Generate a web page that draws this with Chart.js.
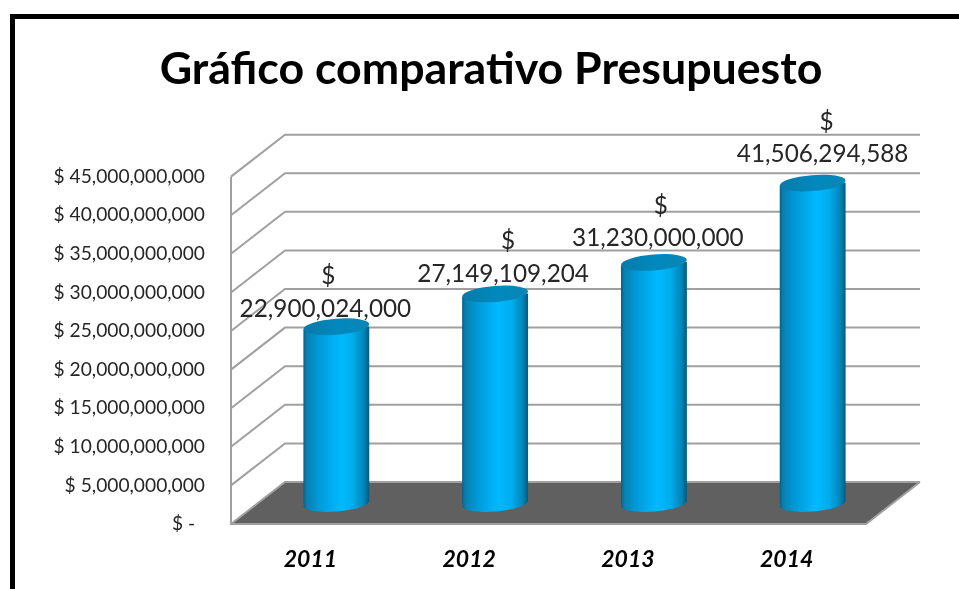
<!DOCTYPE html>
<html><head><meta charset="utf-8">
<style>html,body{margin:0;padding:0;background:#fff}#w{position:relative;width:959px;height:589px;overflow:hidden}canvas{display:block;filter:blur(0.45px)}</style>
<script src="https://cdn.jsdelivr.net/npm/chart.js@4"></script>
</head><body><div id="w"><canvas id="c" width="959" height="589"></canvas></div>
<script>
const categories = ['2011','2012','2013','2014'];
const presupuesto = [22900024000, 27149109204, 31230000000, 41506294588];
const axisMax = 45000000000;
const axisStep = 5000000000;
const titleText = 'Gráfico comparativo Presupuesto';

const FONT = 'Lato, Carlito, sans-serif';
const DEPTH = {x:54, y:-42};          // perspective of the walls
const BAR = {dx:26, dy:-20.5, r:33, ry:8, tilt:-0.08, lift:3};
const LABEL_SHIFT = [{x:-11,y:-18},{x:8,y:-20},{x:4,y:-24},{x:10,y:-29}];
const DOLLAR_SHIFT = [{x:3,y:-33},{x:5,y:-33},{x:3,y:-32},{x:4,y:-32}];

function money(v){ return v.toLocaleString('en-US'); }
function barGradient(ctx, cx){
  const g = ctx.createLinearGradient(cx-BAR.r,0,cx+BAR.r,0);
  g.addColorStop(0,'#075f85');
  g.addColorStop(0.05,'#0a7fae');
  g.addColorStop(0.22,'#0098d6');
  g.addColorStop(0.55,'#00b9ff');
  g.addColorStop(0.74,'#00aeef');
  g.addColorStop(0.92,'#0085b8');
  g.addColorStop(1,'#05597c');
  return g;
}
const scene = {
  id:'scene',
  beforeDraw(chart){
    const c = chart.ctx;
    c.save();
    c.fillStyle='#fff'; c.fillRect(0,0,chart.width,chart.height);
    c.fillStyle='#000';
    c.fillRect(10,14,chart.width-10,5);
    c.fillRect(10,14,5,chart.height-14);
    c.restore();
  },
  beforeDatasetsDraw(chart){
    const c = chart.ctx, y = chart.scales.y, a = chart.chartArea;
    const zero = y.getPixelForValue(0);
    c.save();
    c.fillStyle='#606060';
    c.beginPath();
    c.moveTo(a.left,zero); c.lineTo(a.left+DEPTH.x,zero+DEPTH.y);
    c.lineTo(a.right+DEPTH.x,zero+DEPTH.y); c.lineTo(a.right,zero); c.closePath(); c.fill();
    c.strokeStyle='#a0a0a0'; c.lineWidth=2;
    y.ticks.forEach(t=>{
      const p = y.getPixelForValue(t.value);
      c.beginPath(); c.moveTo(a.left,p); c.lineTo(a.left+DEPTH.x,p+DEPTH.y); c.lineTo(a.right+DEPTH.x,p+DEPTH.y); c.stroke();
    });
    c.beginPath(); c.moveTo(a.left,a.top); c.lineTo(a.left,zero); c.lineTo(a.right,zero); c.lineTo(a.right+DEPTH.x,zero+DEPTH.y); c.stroke();
    c.restore();

    const bars = chart.getDatasetMeta(0).data;
    c.save();
    c.translate(BAR.dx,BAR.dy);
    bars.forEach(b=>{
      c.fillStyle = barGradient(c,b.x);
      c.beginPath(); c.ellipse(b.x,b.base,BAR.r,BAR.ry,BAR.tilt,0,Math.PI*2); c.fill();
    });
    c.beginPath();
    bars.forEach(b=>{
      c.moveTo(b.x-BAR.r,b.y+BAR.lift); c.lineTo(b.x+BAR.r,b.y-BAR.lift);
      c.lineTo(b.x+BAR.r,b.base-BAR.lift); c.lineTo(b.x-BAR.r,b.base+BAR.lift); c.closePath();
    });
    c.clip();
  },
  afterDatasetsDraw(chart){
    const c = chart.ctx, bars = chart.getDatasetMeta(0).data;
    c.restore();
    c.save();
    c.translate(BAR.dx,BAR.dy);
    bars.forEach(b=>{
      const g = c.createLinearGradient(b.x-BAR.r,0,b.x+BAR.r,0);
      g.addColorStop(0,'#0a7aa8'); g.addColorStop(0.5,'#0088bd'); g.addColorStop(1,'#0a86b6');
      c.fillStyle=g;
      c.beginPath(); c.ellipse(b.x,b.y,BAR.r,BAR.ry,BAR.tilt,0,Math.PI*2); c.fill();
    });
    c.restore();
    c.save();
    c.fillStyle='#262626'; c.font='24.3px '+FONT; c.textAlign='center'; c.textBaseline='middle';
    bars.forEach((b,i)=>{
      const top = b.y+BAR.dy, cx = b.x+BAR.dx;
      c.fillText(money(presupuesto[i]), cx+LABEL_SHIFT[i].x, top+LABEL_SHIFT[i].y);
      c.fillText('$', cx+LABEL_SHIFT[i].x+DOLLAR_SHIFT[i].x, top+LABEL_SHIFT[i].y+DOLLAR_SHIFT[i].y);
    });
    c.restore();
  }
};
new Chart(document.getElementById('c'),{
  type:'bar',
  data:{labels:categories,datasets:[{
    label:'Presupuesto',data:presupuesto,barThickness:66,clip:false,borderWidth:0,
    backgroundColor(ctx){
      const ch = ctx.chart;
      if(!ch.scales.x || ctx.dataIndex===undefined) return '#00b9ff';
      const px = ch.scales.x.getPixelForValue(ctx.dataIndex);
      return Number.isFinite(px) ? barGradient(ch.ctx, px) : '#00b9ff';
    }
  }]},
  plugins:[scene],
  options:{
    responsive:false,animation:false,
    layout:{padding:{left:23,right:0,top:0,bottom:0}},
    plugins:{
      legend:{display:false},tooltip:{enabled:false},
      title:{display:true,text:titleText,color:'#000',
        font:{family:FONT,size:44.7,weight:'bold',lineHeight:1.2},
        padding:{top:43,bottom:80}}
    },
    scales:{
      x:{grid:{display:false},border:{display:false},
        ticks:{color:'#000',font:{family:FONT,size:23,weight:'bold',style:'italic'},padding:14,maxRotation:0},
        afterFit(s){s.height=65;}},
      y:{min:0,max:axisMax,grid:{display:false},border:{display:false},
        ticks:{stepSize:axisStep,color:'#262626',font:{family:FONT,size:19.2},padding:18,
          callback:v=> v===0 ? '$ -  ' : '$ '+money(v)},
        afterFit(s){s.width=208;}},
      spare:{position:'right',min:0,max:1,display:true,grid:{display:false},border:{display:false},
        ticks:{display:false},afterFit(s){s.width=93;}}
    }
  }
});
</script></body></html>
